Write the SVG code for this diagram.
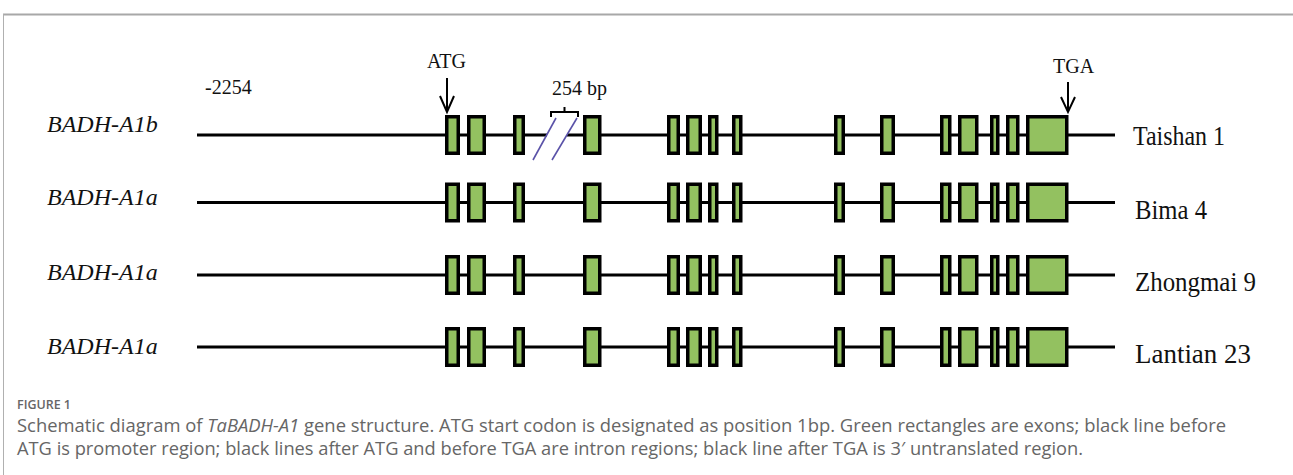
<svg xmlns="http://www.w3.org/2000/svg" xmlns:xlink="http://www.w3.org/1999/xlink" width="1293" height="475" viewBox="0 0 1293 475">
<style>
.bb{fill:none;stroke:#000;stroke-width:3}
.ex{fill:#93c160;stroke:#000;stroke-width:3.5}
.lbl{font-family:"Liberation Serif","Times New Roman",serif;font-size:24px;font-style:italic;fill:#111}
.cv{font-family:"Liberation Serif","Times New Roman",serif;font-size:27px;fill:#111}
.mk{font-family:"Liberation Serif","Times New Roman",serif;font-size:20px;fill:#111}
.arr{fill:none;stroke:#000;stroke-width:2}
.sl{fill:none;stroke:#5a52a8;stroke-width:1.6}
.cap{font-family:"Open Sans","Liberation Sans",sans-serif;fill:#666}
</style>
<defs>
<g id="exons">
<rect class="ex" x="446.75" y="-18.25" width="11.5" height="36.5"/>
<rect class="ex" x="468.75" y="-18.25" width="15.5" height="36.5"/>
<rect class="ex" x="514.75" y="-18.25" width="8.5" height="36.5"/>
<rect class="ex" x="584.75" y="-18.25" width="15" height="36.5"/>
<rect class="ex" x="668.75" y="-18.25" width="9.5" height="36.5"/>
<rect class="ex" x="687.75" y="-18.25" width="12.5" height="36.5"/>
<rect class="ex" x="709.75" y="-18.25" width="7" height="36.5"/>
<rect class="ex" x="733.75" y="-18.25" width="7" height="36.5"/>
<rect class="ex" x="835.75" y="-18.25" width="7.5" height="36.5"/>
<rect class="ex" x="881.75" y="-18.25" width="11.5" height="36.5"/>
<rect class="ex" x="941.75" y="-18.25" width="8" height="36.5"/>
<rect class="ex" x="959.75" y="-18.25" width="17" height="36.5"/>
<rect class="ex" x="991.75" y="-18.25" width="6" height="36.5"/>
<rect class="ex" x="1007.75" y="-18.25" width="10" height="36.5"/>
<rect class="ex" x="1027.75" y="-18.25" width="39" height="36.5"/>
</g>
</defs>
<rect x="0" y="0" width="1293" height="475" fill="#fff"/>
<g id="frame">
<line x1="3" y1="14.5" x2="1293" y2="14.5" stroke="#a8a8a8" stroke-width="2"/>
<line x1="3.5" y1="14" x2="3.5" y2="475" stroke="#b0b0b0" stroke-width="1"/>
</g>
<g id="connectors">
<path class="arr" d="M447,78 L447,112 M440,96 L447,112 L454,96"/>
<path class="arr" d="M1068,82 L1068,112 M1061,97 L1068,112 L1075,97"/>
<path class="arr" d="M551,117 L551,112 L578,112 L578,117 M564.5,112 L564.5,107"/>
</g>
<g id="markers">
<text class="mk" x="205" y="94">-2254</text>
<text class="mk" x="427" y="68">ATG</text>
<text class="mk" x="552" y="95">254 bp</text>
<text class="mk" x="1053" y="73">TGA</text>
</g>
<g id="row-taishan1">
<text class="lbl" x="47" y="132">BADH-A1b</text>
<path class="bb" d="M197,135 L547,135 M567,135 L1115,135"/>
<line class="sl" x1="533" y1="160" x2="556" y2="118"/>
<line class="sl" x1="552" y1="160" x2="577" y2="118"/>
<use xlink:href="#exons" href="#exons" transform="translate(0,135)"/>
<text class="cv" x="1133" y="145" textLength="92" lengthAdjust="spacingAndGlyphs">Taishan 1</text>
</g>
<g id="row-bima4">
<text class="lbl" x="47" y="205">BADH-A1a</text>
<line class="bb" x1="197" y1="202.5" x2="1115" y2="202.5"/>
<use xlink:href="#exons" href="#exons" transform="translate(0,202.5)"/>
<text class="cv" x="1135" y="219" textLength="72" lengthAdjust="spacingAndGlyphs">Bima 4</text>
</g>
<g id="row-zhongmai9">
<text class="lbl" x="47" y="280">BADH-A1a</text>
<line class="bb" x1="197" y1="275" x2="1115" y2="275"/>
<use xlink:href="#exons" href="#exons" transform="translate(0,275)"/>
<text class="cv" x="1135" y="291" textLength="121" lengthAdjust="spacingAndGlyphs">Zhongmai 9</text>
</g>
<g id="row-lantian23">
<text class="lbl" x="47" y="354">BADH-A1a</text>
<line class="bb" x1="197" y1="347" x2="1115" y2="347"/>
<use xlink:href="#exons" href="#exons" transform="translate(0,347)"/>
<text class="cv" x="1135" y="363" textLength="116" lengthAdjust="spacingAndGlyphs">Lantian 23</text>
</g>
<g id="caption">
<text class="cap" x="17" y="409" font-size="13" font-weight="600" fill="#555" textLength="54" lengthAdjust="spacingAndGlyphs">FIGURE 1</text>
<text class="cap" x="17" y="432" font-size="17.5" textLength="1209" lengthAdjust="spacingAndGlyphs">Schematic diagram of <tspan font-style="italic">TaBADH-A1</tspan> gene structure. ATG start codon is designated as position 1bp. Green rectangles are exons; black line before</text>
<text class="cap" x="17" y="455" font-size="17.5" textLength="1066" lengthAdjust="spacingAndGlyphs">ATG is promoter region; black lines after ATG and before TGA are intron regions; black line after TGA is 3′ untranslated region.</text>
</g>
</svg>
